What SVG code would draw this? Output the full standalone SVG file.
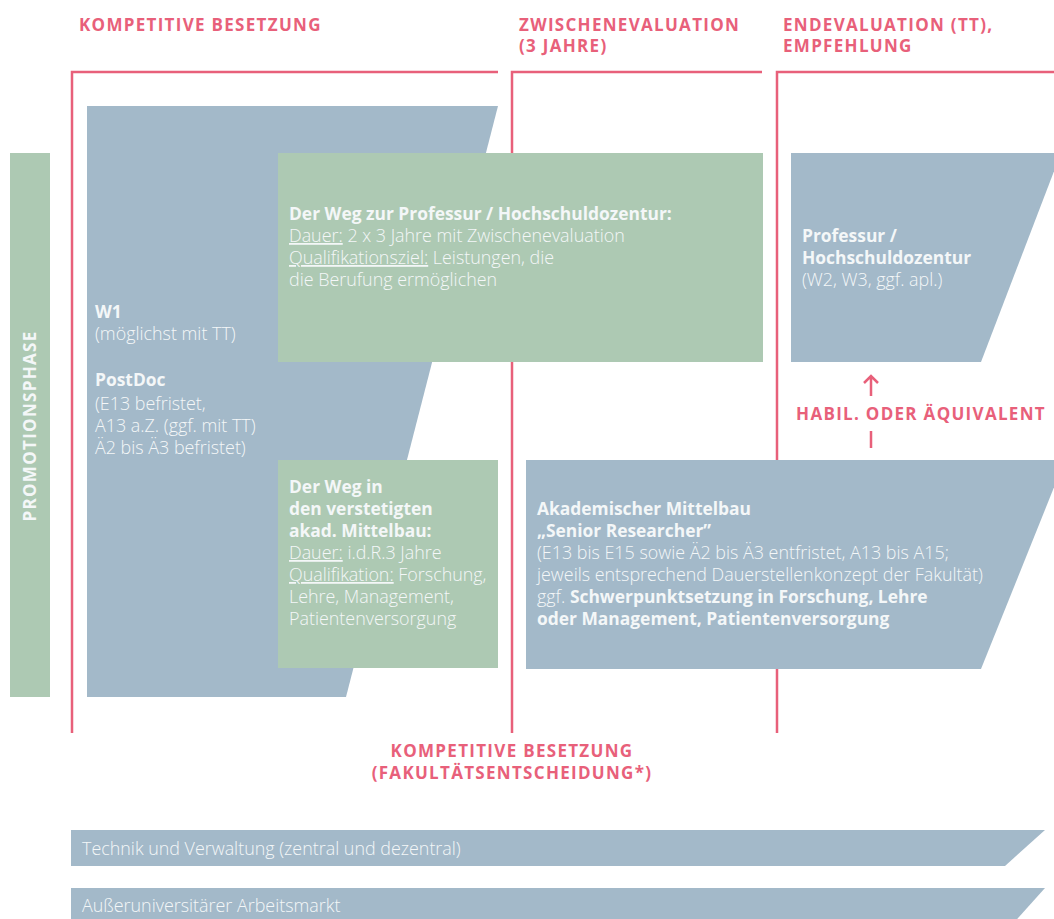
<svg xmlns="http://www.w3.org/2000/svg" width="1054" height="919" viewBox="0 0 1054 919">
<style>
.blue{fill:#a3b9c9}
.green{fill:#adc9b3}
.pink{stroke:#e8607a;stroke-width:2.5;fill:none}
.hd{font-family:"Open Sans","Liberation Sans",sans-serif;font-weight:700;font-size:17px;fill:#e8607a;letter-spacing:1.3px}
.t{font-family:"Open Sans","Liberation Sans",sans-serif;font-weight:300;font-size:17.9px;fill:#f4f7f8}
.b{font-weight:700;font-size:17.4px}
.u{text-decoration:underline}
</style>
<rect width="1054" height="919" fill="#ffffff"/>
<g id="connectors">
<polyline class="pink" points="72,733 72,72 498,72"/>
<polyline class="pink" points="512,733 512,72 762,72"/>
<polyline class="pink" points="777,733 777,72 1054,72"/>
<path class="pink" d="M871,376 V396 M864,383 L871,376 L878,383 M871,431 V448"/>
</g>
<g id="headers">
<text class="hd" x="79" y="31">KOMPETITIVE BESETZUNG</text>
<text class="hd" x="519" y="31">ZWISCHENEVALUATION</text>
<text class="hd" x="519" y="52">(3 JAHRE)</text>
<text class="hd" x="783" y="31">ENDEVALUATION (TT),</text>
<text class="hd" x="783" y="52">EMPFEHLUNG</text>
<text class="hd" x="512" y="757" text-anchor="middle">KOMPETITIVE BESETZUNG</text>
<text class="hd" x="512" y="779" text-anchor="middle">(FAKULTÄTSENTSCHEIDUNG*)</text>
<text class="hd" x="921" y="420" text-anchor="middle">HABIL. ODER ÄQUIVALENT</text>
</g>
<g id="promotionsphase">
<rect class="green" x="10" y="153" width="40" height="544"/>
<text class="hd" x="0" y="0" transform="translate(36,426) rotate(-90)" text-anchor="middle" style="fill:#f4f7f8">PROMOTIONSPHASE</text>
</g>
<g id="w1-postdoc">
<polygon class="blue" points="87,106 498,106 346,697 87,697"/>
<text class="t" x="95" y="318"><tspan class="b">W1</tspan><tspan x="95" dy="22">(möglichst mit TT)</tspan><tspan x="95" dy="46" class="b">PostDoc</tspan><tspan x="95" dy="24">(E13 befristet,</tspan><tspan x="95" dy="22">A13 a.Z. (ggf. mit TT)</tspan><tspan x="95" dy="22">Ä2 bis Ä3 befristet)</tspan></text>
</g>
<g id="weg-professur">
<rect class="green" x="278" y="153" width="485" height="209"/>
<text class="t" x="289" y="220"><tspan class="b">Der Weg zur Professur / Hochschuldozentur:</tspan><tspan x="289" dy="22"><tspan class="u">Dauer:</tspan> 2 x 3 Jahre mit Zwischenevaluation</tspan><tspan x="289" dy="22"><tspan class="u">Qualifikationsziel:</tspan> Leistungen, die</tspan><tspan x="289" dy="22">die Berufung ermöglichen</tspan></text>
</g>
<g id="weg-mittelbau">
<rect class="green" x="278" y="460" width="220" height="208"/>
<text class="t" x="289" y="493"><tspan class="b">Der Weg in</tspan><tspan x="289" dy="22" class="b">den verstetigten</tspan><tspan x="289" dy="22" class="b">akad. Mittelbau:</tspan><tspan x="289" dy="22"><tspan class="u">Dauer:</tspan> i.d.R.3 Jahre</tspan><tspan x="289" dy="22"><tspan class="u">Qualifikation:</tspan> Forschung,</tspan><tspan x="289" dy="22">Lehre, Management,</tspan><tspan x="289" dy="22">Patientenversorgung</tspan></text>
</g>
<g id="professur">
<polygon class="blue" points="791,153 1061,153 981,362 791,362"/>
<text class="t" x="802" y="242"><tspan class="b">Professur /</tspan><tspan x="802" dy="22" class="b">Hochschuldozentur</tspan><tspan x="802" dy="22">(W2, W3, ggf. apl.)</tspan></text>
</g>
<g id="mittelbau">
<polygon class="blue" points="526,460 1065,460 981,669 526,669"/>
<text class="t" x="537" y="515"><tspan class="b">Akademischer Mittelbau</tspan><tspan x="537" dy="22" class="b">„Senior Researcher”</tspan><tspan x="537" dy="22">(E13 bis E15 sowie Ä2 bis Ä3 entfristet, A13 bis A15;</tspan><tspan x="537" dy="22">jeweils entsprechend Dauerstellenkonzept der Fakultät)</tspan><tspan x="537" dy="22">ggf. <tspan class="b">Schwerpunktsetzung in Forschung, Lehre</tspan></tspan><tspan x="537" dy="22" class="b">oder Management, Patientenversorgung</tspan></text>
</g>
<g id="technik">
<polygon class="blue" points="71,830 1045,830 1005,866 71,866"/>
<text class="t" x="82" y="855">Technik und Verwaltung (zentral und dezentral)</text>
</g>
<g id="arbeitsmarkt">
<polygon class="blue" points="71,888 1045,888 1010,927 71,927"/>
<text class="t" x="82" y="912">Außeruniversitärer Arbeitsmarkt</text>
</g>
</svg>
